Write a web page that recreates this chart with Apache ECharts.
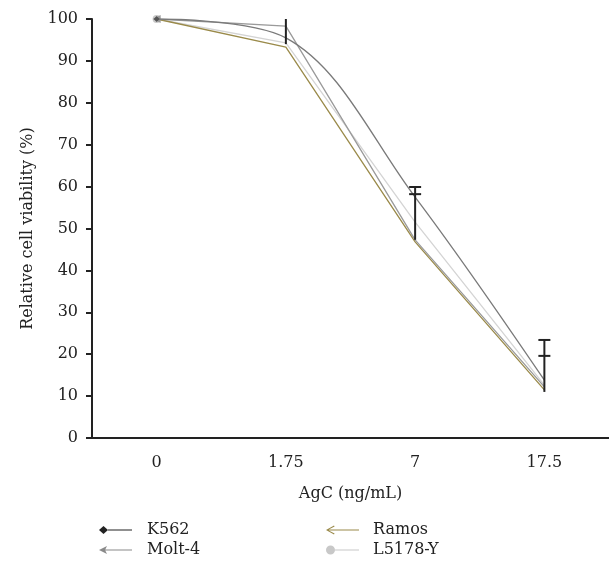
<!DOCTYPE html>
<html>
<head>
<meta charset="utf-8">
<script src="https://cdn.jsdelivr.net/npm/echarts@6/dist/echarts.min.js"></script>
<style>
  html, body { margin: 0; padding: 0; background: #fff; }
  #main { width: 609px; height: 571px; }
</style>
</head>
<body>
<div id="main"></div>
<script>
// data
const doses = ["0", "1.75", "7", "17.5"];
const k562 = [100, 95.5, 57.5, 13.8];
const molt4 = [100, 98.3, 47.3, 12.2];
const ramos = [100, 93.3, 46.8, 11.5];
const l5178y = [100, 94.3, 51.5, 12.6];
// error bar ends and cap positions
const errTop = [null, 100, 59.9, 23.4];
const errBottom = [null, 94, 47.3, 11];
const capUpper = [null, null, 59.9, 23.4];
const capLower = [null, null, 58.2, 19.6];

const serif = "DejaVu Serif";

var chartDom = document.getElementById("main");
var myChart = echarts.init(chartDom);

// show a marker on the first point only
function firstMarker(values, symbol, size, rotate) {
  return values.map(function (v, i) {
    if (i === 0) return { value: v, symbol: symbol, symbolSize: size, symbolRotate: rotate || 0 };
    return { value: v, symbol: "none" };
  });
}

var errData = doses.map(function (d, i) {
  return [i, errTop[i], errBottom[i], capUpper[i], capLower[i]];
}).filter(function (r) { return r[1] != null; });

function legendAt(name, left, top, icon, color, pad) {
  return {
    data: [{ name: name, icon: icon, itemStyle: { color: color } }],
    left: left,
    top: top,
    itemWidth: 33,
    itemHeight: 10,
    itemGap: 0,
    selectedMode: false,
    textStyle: { fontFamily: serif, fontSize: 16, color: "#222", padding: [0, 0, 0, pad] }
  };
}

var option = {
  animation: false,
  grid: { left: 92, right: -3, top: 19, bottom: 133 },
  legend: [
    legendAt("K562", 94, 517, "path://M0,5 L4.5,1 L9,5 L4.5,9 Z M9,4.4 L33,4.4 L33,5.6 L9,5.6 Z", "#222", 10),
    legendAt("Molt-4", 94, 537, "path://M0,5 L8,1 L6,5 L8,9 Z M6,4.4 L33,4.4 L33,5.6 L6,5.6 Z", "#8a8a8a", 10),
    legendAt("Ramos", 321, 517, "path://M0,5 L8,0.5 L8.6,1.4 L1.8,5 L8.6,8.6 L8,9.5 Z M1,4.5 L33,4.5 L33,5.5 L1,5.5 Z", "#9a8a4a", 9),
    legendAt("L5178-Y", 321, 537, "path://M0,5 A4.5,4.5 0 1,1 9,5 A4.5,4.5 0 1,1 0,5 Z M9,4.5 L33,4.5 L33,5.5 L9,5.5 Z", "#c8c8c8", 9)
  ],
  xAxis: {
    type: "category",
    data: doses,
    boundaryGap: true,
    name: "AgC (ng/mL)",
    nameLocation: "middle",
    nameGap: 48,
    nameTextStyle: { fontFamily: serif, fontSize: 16, color: "#222" },
    axisLine: { lineStyle: { color: "#222", width: 2 } },
    axisTick: { inside: false, length: 6, lineStyle: { color: "#222", width: 2 } },
    axisLabel: { fontFamily: serif, fontSize: 16, color: "#222", margin: 17 },
    splitLine: { show: false }
  },
  yAxis: {
    type: "value",
    min: 0,
    max: 100,
    interval: 10,
    name: "Relative cell viability (%)",
    nameLocation: "middle",
    nameGap: 56,
    nameTextStyle: { fontFamily: serif, fontSize: 16, color: "#222" },
    axisLine: { show: true, lineStyle: { color: "#222", width: 2 } },
    axisTick: { show: true, inside: false, length: 6, lineStyle: { color: "#222", width: 2 } },
    axisLabel: { fontFamily: serif, fontSize: 16, color: "#222", margin: 14 },
    splitLine: { show: false }
  },
  series: [
    {
      name: "K562",
      type: "line",
      smooth: 0.35,
      data: firstMarker(k562, "diamond", 6),
      lineStyle: { color: "#7a7a7a", width: 1.3 },
      itemStyle: { color: "#555" },
      z: 4
    },
    {
      name: "Molt-4",
      type: "line",
      data: firstMarker(molt4, "triangle", 8, 90),
      lineStyle: { color: "#9a9a9a", width: 1.3 },
      itemStyle: { color: "#9a9a9a" },
      z: 3
    },
    {
      name: "Ramos",
      type: "line",
      data: firstMarker(ramos, "none", 0),
      lineStyle: { color: "#9a8a4a", width: 1.3 },
      itemStyle: { color: "#9a8a4a" },
      z: 2
    },
    {
      name: "L5178-Y",
      type: "line",
      data: firstMarker(l5178y, "circle", 8),
      lineStyle: { color: "#d4d4d4", width: 1.3 },
      itemStyle: { color: "#c8c8c8" },
      z: 1
    },
    {
      name: "error",
      type: "custom",
      z: 10,
      data: errData,
      renderItem: function (params, api) {
        var top = api.coord([api.value(0), api.value(1)]);
        var bottom = api.coord([api.value(0), api.value(2)]);
        var children = [{
          type: "line",
          shape: { x1: top[0], y1: top[1], x2: bottom[0], y2: bottom[1] },
          style: { stroke: "#222", lineWidth: 2 }
        }];
        [api.value(3), api.value(4)].forEach(function (c) {
          if (c == null || isNaN(c)) return;
          var p = api.coord([api.value(0), c]);
          children.push({
            type: "line",
            shape: { x1: p[0] - 6, y1: p[1], x2: p[0] + 6, y2: p[1] },
            style: { stroke: "#222", lineWidth: 2 }
          });
        });
        return { type: "group", children: children };
      }
    }
  ]
};

myChart.setOption(option);
</script>
</body>
</html>
